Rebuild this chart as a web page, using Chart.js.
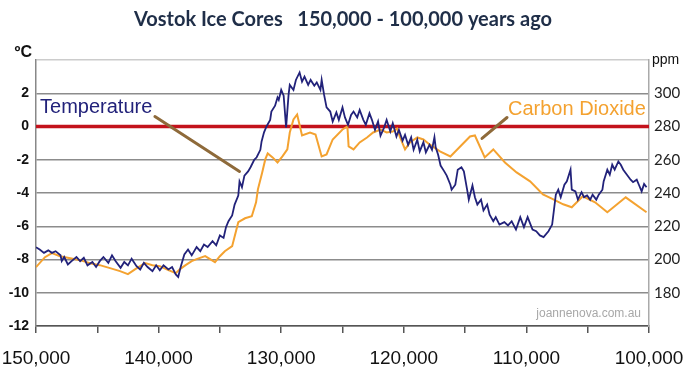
<!DOCTYPE html>
<html><head><meta charset="utf-8">
<script src="https://cdn.jsdelivr.net/npm/chart.js@4"></script>
<style>html,body{margin:0;padding:0;background:#fff}</style>
</head><body>
<canvas id="c" width="686" height="386"></canvas>
<script>
const chartTitle = 'Vostok Ice Cores   150,000 - 100,000 years ago';
const xTickLabels = ['150,000','140,000','130,000','120,000','110,000','100,000'];
const tempUnit = 'ºC';
const co2Unit = 'ppm';
const tempLabel = 'Temperature';
const co2Label = 'Carbon Dioxide';
const watermark = 'joannenova.com.au';

// thousand years ago / °C
const tempAgeKyr = [150.0,149.7,149.35,149.0,148.7,148.4,148.0,147.9,147.7,147.4,147.1,146.7,146.4,146.1,145.8,145.4,145.1,144.8,144.5,144.1,143.8,143.5,143.1,142.8,142.5,142.2,141.8,141.5,141.2,140.9,140.5,140.2,139.9,139.6,139.2,138.9,138.6,138.4,138.2,137.9,137.6,137.3,136.9,136.6,136.3,136.0,135.6,135.3,135.0,134.7,134.5,134.3,134.0,133.8,133.5,133.4,133.2,133.0,132.7,132.5,132.2,132.0,131.7,131.6,131.4,131.2,130.9,130.8,130.5,130.3,130.2,130.0,129.8,129.6,129.4,129.3,129.0,128.8,128.5,128.3,128.1,127.8,127.6,127.3,127.1,126.8,126.7,126.5,126.3,126.0,125.8,125.5,125.3,125.0,124.8,124.55,124.3,124.1,123.8,123.6,123.3,123.1,122.8,122.6,122.35,122.1,121.9,121.6,121.4,121.1,120.9,120.6,120.4,120.1,119.9,119.65,119.4,119.2,118.9,118.7,118.4,118.2,117.9,117.7,117.5,117.4,117.2,117.0,116.7,116.5,116.2,116.1,115.8,115.6,115.3,115.1,114.8,114.7,114.4,114.2,114.0,113.7,113.5,113.2,113.0,112.7,112.5,112.2,111.8,111.5,111.2,110.85,110.5,110.2,109.9,109.5,109.2,108.9,108.6,108.2,107.9,107.75,107.6,107.4,107.2,106.9,106.7,106.4,106.3,106.0,105.8,105.5,105.3,105.05,104.8,104.6,104.3,104.1,103.8,103.7,103.4,103.2,103.0,102.8,102.5,102.3,102.1,101.8,101.5,101.3,101.0,100.8,100.6,100.4,100.2];
const tempC = [-7.26,-7.4,-7.6,-7.45,-7.6,-7.5,-7.75,-8.1,-7.85,-8.3,-8.1,-7.85,-8.1,-7.9,-8.35,-8.15,-8.45,-8.1,-7.85,-8.2,-7.75,-8.1,-8.5,-8.15,-8.35,-7.95,-8.4,-8.6,-8.2,-8.45,-8.7,-8.35,-8.65,-8.35,-8.6,-8.45,-8.9,-9.05,-8.45,-7.7,-7.4,-7.75,-7.25,-7.5,-7.1,-7.25,-6.9,-7.15,-6.55,-6.7,-6.05,-5.7,-5.35,-4.7,-4.15,-3.3,-3.65,-2.95,-2.7,-2.45,-2.0,-1.85,-1.4,-0.9,-0.35,0,0.4,0.9,1.25,1.75,1.6,2.2,1.85,-0.05,1.9,2.5,2.2,2.8,3.25,2.7,3.0,2.5,2.8,2.45,2.65,2.2,2.8,1.9,1.15,0.9,0.3,0.85,0.4,1.15,0.55,0.1,0.7,0.9,0.55,1.0,0.4,0.1,0.8,0.4,-0.2,0.3,-0.55,-0.05,0.4,-0.3,0.2,-0.6,-0.2,-0.85,-0.5,-1.1,-0.65,-1.4,-0.8,-1.5,-0.95,-1.55,-1.1,-1.4,-0.65,-1.25,-1.7,-2.35,-2.7,-2.95,-3.5,-3.8,-3.5,-2.6,-2.45,-2.7,-3.95,-4.4,-3.55,-4.25,-4.7,-4.4,-5.05,-4.7,-5.3,-5.7,-5.45,-5.9,-5.75,-5.95,-5.7,-6.2,-5.45,-6.05,-5.45,-6.2,-6.3,-6.55,-6.65,-6.3,-5.9,-5.0,-4.1,-3.8,-4.25,-3.5,-3.3,-2.6,-3.8,-3.9,-4.4,-3.95,-4.25,-4.15,-4.4,-4.1,-4.4,-4.1,-3.8,-3.3,-2.6,-2.9,-2.3,-2.6,-2.1,-2.3,-2.6,-2.9,-3.2,-3.35,-3.2,-3.55,-3.9,-3.45,-3.65];

// thousand years ago / ppm
const co2AgeKyr = [150.0,149.27,148.7,148.04,147.2,146.4,145.6,144.8,143.96,143.15,142.5,141.9,141.1,140.5,139.9,139.2,138.6,138.25,137.8,137.3,136.9,136.2,135.4,135.0,134.6,134.0,133.5,132.95,132.4,132.05,131.9,131.55,131.3,131.1,130.7,130.3,129.9,129.5,129.3,129.0,128.7,128.3,127.65,127.2,126.7,126.3,125.8,125.0,124.6,124.5,124.1,123.6,123.0,122.5,121.9,121.4,120.9,120.55,120.3,119.9,119.5,118.9,118.4,117.9,117.05,116.2,115.4,114.6,114.2,113.4,112.7,111.75,110.8,109.7,108.65,107.8,107.0,106.3,105.4,104.4,103.4,101.9,100.2];
const co2Ppm = [195.4,201.4,203.8,202.0,200.8,199.6,197.8,196.6,194.8,193.0,191.2,194.2,197.8,196.6,196.0,193.6,191.8,194.2,196.6,199.0,200.2,202.0,198.4,202.0,205.0,208.0,222.4,224.8,226.0,234.4,242.2,252.4,260.2,263.8,261.4,258.4,262.0,266.2,276.4,284.2,287.2,274.6,276.4,275.2,262.0,263.2,272.2,278.2,280.0,268.0,266.2,270.4,273.4,276.4,278.2,276.4,277.0,278.8,273.4,266.2,270.4,273.4,272.2,269.2,265.0,262.0,268.0,274.0,274.6,261.4,266.2,258.4,252.4,247.0,239.2,236.2,233.2,231.4,238.0,234.4,228.4,237.4,228.4];

const zeroLineAge = [150, 100];
const zeroLineTemp = [0, 0];

const SANS = '"Liberation Sans", Arial, sans-serif';
const NAVY = '#22227a';
const ORANGE = '#f4a230';

const overlay = {
  id: 'overlay',
  afterDatasetsDraw(chart) {
    const {ctx, chartArea: a, scales: {x, y}} = chart;
    ctx.save();
    ctx.strokeStyle = '#8e6a3a';
    ctx.lineWidth = 3;
    ctx.lineCap = 'round';
    ctx.beginPath();
    ctx.moveTo(x.getPixelForValue(140.3), y.getPixelForValue(0.6));
    ctx.lineTo(x.getPixelForValue(133.4), y.getPixelForValue(-2.7));
    ctx.moveTo(x.getPixelForValue(113.62), y.getPixelForValue(-0.72));
    ctx.lineTo(x.getPixelForValue(111.58), y.getPixelForValue(0.54));
    ctx.stroke();
    ctx.textBaseline = 'middle';
    ctx.font = '20px ' + SANS;
    ctx.fillStyle = NAVY;
    ctx.textAlign = 'left';
    ctx.fillText(tempLabel, x.getPixelForValue(149.67), y.getPixelForValue(1.14));
    ctx.fillStyle = ORANGE;
    ctx.fillText(co2Label, x.getPixelForValue(111.5), y.getPixelForValue(1.02));
    ctx.font = '12px ' + SANS;
    ctx.fillStyle = '#a8a8a8';
    ctx.textAlign = 'right';
    ctx.fillText(watermark, x.getPixelForValue(100.65), y.getPixelForValue(-11.28));
    ctx.fillStyle = '#111';
    ctx.font = 'bold 16px ' + SANS;
    ctx.textAlign = 'right';
    ctx.fillText(tempUnit, a.left - 4, a.top - 7);
    ctx.font = '14px ' + SANS;
    ctx.textAlign = 'left';
    ctx.fillText(co2Unit, a.right + 3, a.top);
    ctx.restore();
  }
};

new Chart(document.getElementById('c'), {
  type: 'line',
  data: {
    datasets: [
      {
        label: 'Zero',
        data: zeroLineAge.map((a, i) => ({x: a, y: zeroLineTemp[i]})),
        borderColor: '#c3121c', borderWidth: 3.5, pointRadius: 0, yAxisID: 'y', order: 3
      },
      {
        label: co2Label,
        data: co2AgeKyr.map((a, i) => ({x: a, y: co2Ppm[i]})),
        borderColor: ORANGE, borderWidth: 2, pointRadius: 0, tension: 0, yAxisID: 'y1', order: 2
      },
      {
        label: tempLabel,
        data: tempAgeKyr.map((a, i) => ({x: a, y: tempC[i]})),
        borderColor: NAVY, borderWidth: 1.8, pointRadius: 0, tension: 0, yAxisID: 'y', order: 1
      }
    ]
  },
  options: {
    responsive: false,
    animation: false,
    devicePixelRatio: 1,
    layout: {padding: 0},
    plugins: {
      legend: {display: false},
      tooltip: {enabled: false},
      title: {
        display: true, text: chartTitle, color: '#1f2e48',
        font: {family: 'Lato, ' + SANS, size: 20, weight: 'bold'},
        padding: {top: 8, bottom: 28}
      }
    },
    scales: {
      x: {
        type: 'linear', reverse: true, min: 100, max: 150,
        afterFit: s => { s.height = 60; s.paddingLeft = 0; s.paddingRight = 0; },
        ticks: {
          stepSize: 5, autoSkip: false, maxRotation: 0, padding: 14,
          color: '#111', font: {family: SANS, size: 19},
          callback: v => (v % 10 === 0 ? xTickLabels[(150 - v) / 10] : '')
        },
        grid: {drawOnChartArea: false, drawTicks: true, tickLength: 7, color: '#555', lineWidth: 1.5},
        border: {color: '#555', width: 1.5}
      },
      y: {
        position: 'left', min: -12, max: 4,
        afterFit: s => { s.width = 36; },
        ticks: {
          stepSize: 2, padding: 7, color: '#111',
          font: {family: SANS, size: 14, weight: 'bold'},
          callback: v => (v === 4 ? '' : String(v))
        },
        grid: {
          drawTicks: false,
          color: c => (c.tick && c.tick.value === 4 ? '#cccccc' : '#8c8c8c'),
          lineWidth: 1.5
        },
        border: {color: '#888', width: 1.5}
      },
      y1: {
        position: 'right', min: 160, max: 320,
        afterFit: s => { s.width = 37; },
        ticks: {
          stepSize: 20, padding: 5, color: '#222',
          font: {family: 'Lato, ' + SANS, size: 15},
          callback: v => (v === 160 || v === 320 ? '' : String(v))
        },
        grid: {drawOnChartArea: false, drawTicks: false},
        border: {color: '#aaa', width: 1.5}
      }
    }
  },
  plugins: [overlay]
});
</script>
</body></html>
